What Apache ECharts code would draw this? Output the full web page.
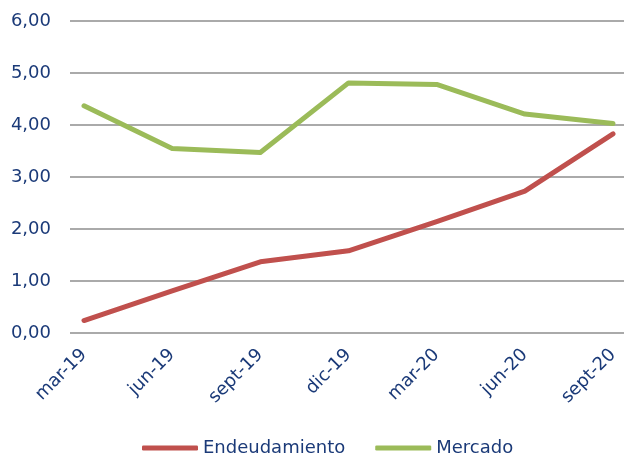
<!DOCTYPE html>
<html>
<head>
<meta charset="utf-8">
<script src="https://cdn.jsdelivr.net/npm/echarts@6/dist/echarts.min.js"></script>
<style>html,body{margin:0;padding:0;background:#fff}#c{width:624px;height:458px}</style>
</head>
<body>
<div id="c"></div>
<script>
const categories = ['mar-19','jun-19','sept-19','dic-19','mar-20','jun-20','sept-20'];
const endeudamiento = [0.24, 0.81, 1.37, 1.58, 2.14, 2.73, 3.83];
const mercado = [4.37, 3.55, 3.47, 4.81, 4.78, 4.21, 4.03];
const yTicks = [0, 1, 2, 3, 4, 5, 6];

const textColor = '#1B3A78';
const font = 'DejaVu Sans';
const chart = echarts.init(document.getElementById('c'), null, {renderer:'canvas'});
chart.setOption({
  animation: false,
  textStyle: {fontFamily: font},
  grid: [
    {left: 70, right: 0, top: 21, bottom: 125},
    {left: 84, right: 11, top: 21, bottom: 125}
  ],
  xAxis: [
    {gridIndex: 0, type: 'value', show: false, min: 0, max: 1},
    {gridIndex: 1, type: 'category', data: categories, boundaryGap: false,
     axisLine: {show: false}, axisTick: {show: false},
     axisLabel: {rotate: 45, margin: 19, color: textColor, fontSize: 18, fontFamily: font}}
  ],
  yAxis: [
    {gridIndex: 0, type: 'value', min: yTicks[0], max: yTicks[yTicks.length-1], interval: 1,
     axisLine: {show: false}, axisTick: {show: false},
     axisLabel: {margin: 19, color: textColor, fontSize: 18, fontFamily: font,
       formatter: v => v.toFixed(2).replace('.', ',')},
     splitLine: {show: true, lineStyle: {color: '#8E8E8E', width: 1.5}}},
    {gridIndex: 1, type: 'value', min: 0, max: 6, interval: 1, show: false,
     splitLine: {show: false}}
  ],
  legend: {
    top: 439, left: 142, padding: 0,
    itemWidth: 56, itemHeight: 5, itemGap: 30,
    icon: 'roundRect',
    textStyle: {color: textColor, fontSize: 18, fontFamily: font},
    data: ['Endeudamiento', 'Mercado']
  },
  series: [
    {name: 'Endeudamiento', type: 'line', xAxisIndex: 1, yAxisIndex: 1, data: endeudamiento,
     symbol: 'none', color: '#C0504D', lineStyle: {width: 5, cap: 'round', join: 'round'}},
    {name: 'Mercado', type: 'line', xAxisIndex: 1, yAxisIndex: 1, data: mercado,
     symbol: 'none', color: '#9BBB59', lineStyle: {width: 5, cap: 'round', join: 'round'}}
  ]
});
</script>
</body>
</html>
